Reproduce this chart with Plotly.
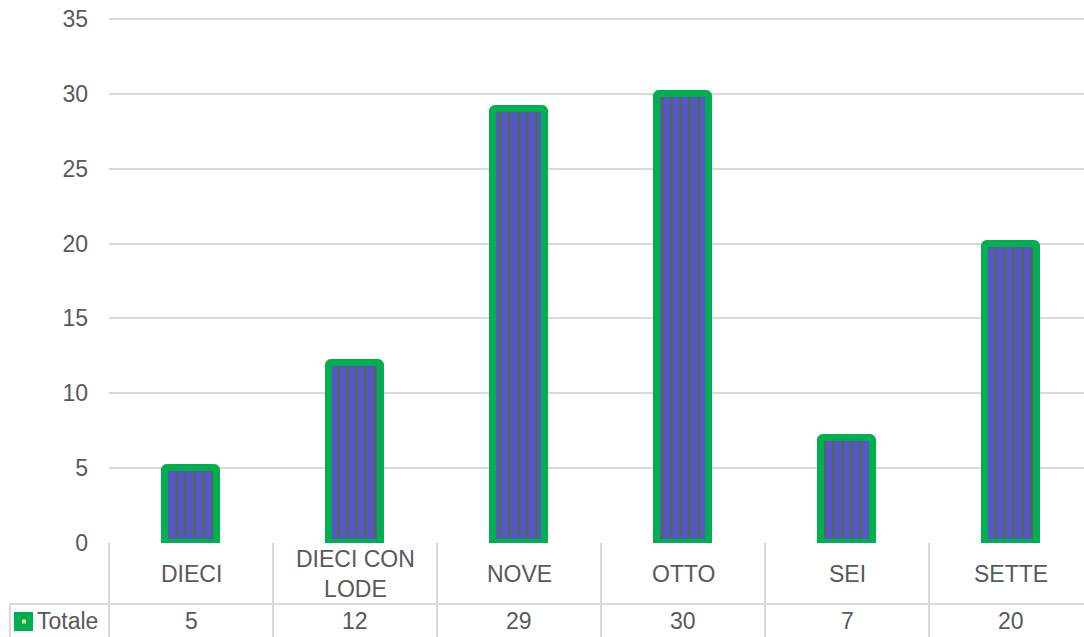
import plotly.graph_objects as go

categories = ["DIECI", "DIECI CON LODE", "NOVE", "OTTO", "SEI", "SETTE"]
category_labels = ["DIECI", "DIECI CON<br>LODE", "NOVE", "OTTO", "SEI", "SETTE"]
totale = [5, 12, 29, 30, 7, 20]
series_name = "Totale"
y_ticks = [0, 5, 10, 15, 20, 25, 30, 35]

W, H = 1084, 637
P_L, P_TOP35, P_ZERO = 109, 19, 543
unit_px = (P_ZERO - P_TOP35) / 35.0
T = 9
L = P_L
B = H - P_ZERO
plot_h = H - T - B
plot_w = W - L
y_max = plot_h / unit_px
cat_px = 164.0
x_max = -0.5 + plot_w / cat_px

FONT = "Liberation Sans, Arial, sans-serif"
FS = 23
TXT = "#595959"
GRID = "#D9D9D9"
GREEN = "#00B050"


def py(p):
    # page pixel row -> paper y
    return (P_ZERO - p) / plot_h


def px(p):
    # page pixel column -> paper x
    return (p - P_L) / plot_w


fig = go.Figure()
fig.add_trace(go.Bar(
    x=list(range(len(categories))),
    y=totale,
    name=series_name,
    width=0.32,
    marker=dict(
        color="#5656C8",
        line=dict(color=GREEN, width=7),
        cornerradius=3,
        pattern=dict(shape="|", fgcolor="#4A7424", bgcolor="#5656CA",
                     size=9, solidity=0.2, fillmode="replace"),
    ),
    showlegend=False,
    hovertext=categories,
))

shapes = []
line = dict(color=GRID, width=2)
bottom = py(H + 5)
shapes.append(dict(type="line", xref="paper", yref="paper", x0=0, x1=0,
                   y0=0, y1=bottom, line=line))
for i in range(len(categories) - 1):
    shapes.append(dict(type="line", xref="x", yref="paper", x0=i + 0.5, x1=i + 0.5,
                       y0=0, y1=bottom, line=line))
shapes.append(dict(type="line", xref="paper", yref="paper", x0=px(10), x1=1,
                   y0=py(604), y1=py(604), line=line))
shapes.append(dict(type="line", xref="paper", yref="paper", x0=px(10), x1=px(10),
                   y0=py(604), y1=bottom, line=line))
# legend key
shapes.append(dict(type="rect", xref="paper", yref="paper", x0=px(14), x1=px(33),
                   y0=py(631), y1=py(612), fillcolor=GREEN, line=dict(width=0)))
shapes.append(dict(type="rect", xref="paper", yref="paper", x0=px(22), x1=px(26),
                   y0=py(623.5), y1=py(619.5), fillcolor="#E8D9A0", line=dict(width=0)))

annotations = []
for i, lab in enumerate(category_labels):
    annotations.append(dict(x=i, y=py(574), xref="x", yref="paper", text=lab,
                            showarrow=False, xanchor="center", yanchor="middle",
                            font=dict(family=FONT, size=FS, color=TXT)))
for i, v in enumerate(totale):
    annotations.append(dict(x=i, y=py(621), xref="x", yref="paper", text=str(v),
                            showarrow=False, xanchor="center", yanchor="middle",
                            font=dict(family=FONT, size=FS, color=TXT)))
annotations.append(dict(x=px(35), y=py(621), xref="paper", yref="paper", text=series_name,
                        showarrow=False, xanchor="left", yanchor="middle",
                        font=dict(family=FONT, size=FS, color=TXT)))

fig.update_layout(
    width=W, height=H,
    margin=dict(l=L, r=0, t=T, b=B, pad=0),
    paper_bgcolor="white", plot_bgcolor="white",
    font=dict(family=FONT, size=FS, color=TXT),
    xaxis=dict(range=[-0.5, x_max], showticklabels=False, showgrid=False,
               zeroline=False, showline=False, ticks=""),
    yaxis=dict(range=[0, y_max], tickvals=y_ticks, showgrid=True, gridcolor=GRID,
               gridwidth=2, zeroline=False, showline=False, ticks="",
               ticklabelstandoff=20, tickfont=dict(family=FONT, size=FS, color=TXT)),
    shapes=shapes,
    annotations=annotations,
    bargap=0,
)

fig.write_html(
    "out.html",
    config={"displayModeBar": False},
    post_script="document.body.style.margin='0';document.body.style.overflow='hidden';",
)
